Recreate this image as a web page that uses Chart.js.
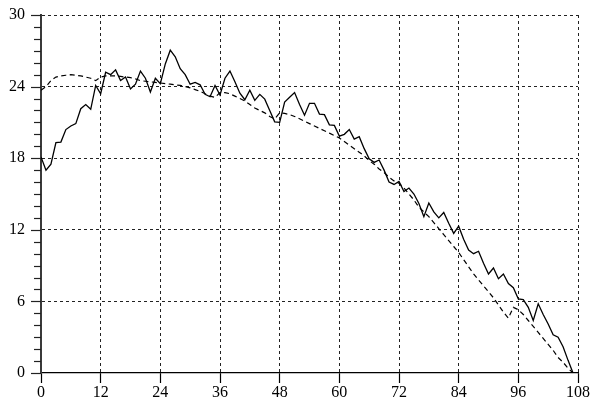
<!DOCTYPE html>
<html>
<head>
<meta charset="utf-8">
<style>
  html, body { margin: 0; padding: 0; background: #fff; }
  #wrap { width: 593px; height: 402px; }
</style>
<script src="https://cdn.jsdelivr.net/npm/chart.js@4/dist/chart.umd.min.js"></script>
</head>
<body>
<div id="wrap"><canvas id="c" width="593" height="402"></canvas></div>
<script>
// Month index along the horizontal axis
const months = [
  0, 1, 2, 3, 4, 5, 6, 7, 8, 9, 10, 11, 12, 13, 14, 15, 16, 17, 18, 19,
  20, 21, 22, 23, 24, 25, 26, 27, 28, 29, 30, 31, 32, 33, 34, 35, 36, 37, 38, 39,
  40, 41, 42, 43, 44, 45, 46, 47, 48, 49, 50, 51, 52, 53, 54, 55, 56, 57, 58, 59,
  60, 61, 62, 63, 64, 65, 66, 67, 68, 69, 70, 71, 72, 73, 74, 75, 76, 77, 78, 79,
  80, 81, 82, 83, 84, 85, 86, 87, 88, 89, 90, 91, 92, 93, 94, 95, 96, 97, 98, 99,
  100, 101, 102, 103, 104, 105, 106, 107
];

// Observed series (solid line)
const observed = [
  18.1, 17.0, 17.5, 19.3, 19.35, 20.4, 20.7, 20.9, 22.15, 22.5,
  22.1, 24.1, 23.4, 25.2, 25.0, 25.4, 24.5, 24.8, 23.8, 24.2,
  25.3, 24.7, 23.55, 24.7, 24.25, 25.9, 27.05, 26.5, 25.5, 25.0,
  24.2, 24.35, 24.15, 23.35, 23.15, 24.1, 23.3, 24.7, 25.3, 24.4,
  23.45, 22.9, 23.7, 22.85, 23.35, 22.95, 22.0, 21.05, 21.0, 22.7,
  23.1, 23.5, 22.5, 21.6, 22.6, 22.6, 21.7, 21.65, 20.8, 20.75,
  19.85, 20.0, 20.4, 19.6, 19.8, 18.8, 17.95, 17.65, 17.85, 17.0,
  16.0, 15.8, 16.05, 15.2, 15.5, 15.0, 14.2, 13.1, 14.25, 13.5,
  13.0, 13.45, 12.55, 11.7, 12.3, 11.2, 10.3, 10.0, 10.2, 9.2,
  8.3, 8.8, 7.9, 8.3, 7.5, 7.15, 6.2, 6.15, 5.5, 4.4,
  5.8, 4.9, 4.1, 3.2, 3.0, 2.2, 1.06, 0.0
];

// Fitted series (dashed line)
const fitted = [
  23.7, 24.0, 24.5, 24.8, 24.9, 24.95, 25.0, 24.95, 24.9, 24.8,
  24.7, 24.5, 24.8, 24.9, 24.9, 24.9, 24.85, 24.8, 24.75, 24.65,
  24.5, 24.45, 24.4, 24.35, 24.3, 24.25, 24.2, 24.15, 24.1, 24.0,
  23.9, 23.75, 23.6, 23.4, 23.2, 23.1, 23.5, 23.5, 23.4, 23.2,
  23.0, 22.8, 22.5, 22.2, 22.0, 21.8, 21.5, 21.3, 21.8, 21.75,
  21.65, 21.5, 21.3, 21.1, 20.9, 20.7, 20.5, 20.3, 20.1, 19.9,
  19.7, 19.4, 19.1, 18.8, 18.5, 18.2, 17.8, 17.5, 17.1, 16.8,
  16.4, 16.1, 15.9, 15.5, 15.0, 14.5, 13.9, 13.5, 13.1, 12.6,
  12.1, 11.6, 11.1, 10.6, 10.1, 9.5, 8.9, 8.3, 7.8, 7.3,
  6.8, 6.3, 5.7, 5.1, 4.6, 5.5, 5.3, 4.9, 4.4, 3.9,
  3.4, 2.9, 2.4, 1.9, 1.3, 0.9, 0.4, 0.0
];

// Axis tick values
const xTicks = [0, 12, 24, 36, 48, 60, 72, 84, 96, 108];
const yTicks = [0, 6, 12, 18, 24, 30];

const FONT = { family: "'Liberation Serif', 'DejaVu Serif', serif", size: 16 };

// Short minor ticks at every unit on the value axis, long ones at labelled values
const yTickMarks = {
  id: 'yTickMarks',
  afterDraw(chart) {
    const y = chart.scales.y;
    const ctx = chart.ctx;
    const left = chart.chartArea.left;
    ctx.save();
    ctx.strokeStyle = '#222';
    ctx.lineWidth = 1.2;
    for (let v = y.min; v <= y.max; v++) {
      const py = Math.round(y.getPixelForValue(v)) + 0.5;
      const len = yTicks.includes(v) ? 10 : 7;
      ctx.beginPath();
      ctx.moveTo(left - len, py);
      ctx.lineTo(left, py);
      ctx.stroke();
    }
    ctx.restore();
  }
};

new Chart(document.getElementById('c'), {
  type: 'line',
  data: {
    datasets: [
      {
        data: months.map((m, i) => ({ x: m, y: observed[i] })),
        borderColor: '#000',
        borderWidth: 1.3,
        pointRadius: 0,
        tension: 0,
        fill: false
      },
      {
        data: months.map((m, i) => ({ x: m, y: fitted[i] })),
        borderColor: '#000',
        borderWidth: 1.2,
        borderDash: [5, 3.5],
        pointRadius: 0,
        tension: 0,
        fill: false
      }
    ]
  },
  options: {
    responsive: false,
    animation: false,
    events: [],
    layout: { padding: { left: 0, right: 15, top: 15, bottom: 0 } },
    plugins: { legend: { display: false }, tooltip: { enabled: false } },
    scales: {
      x: {
        type: 'linear',
        min: 0,
        max: 108,
        afterBuildTicks(scale) { scale.ticks = xTicks.map(v => ({ value: v })); },
        afterFit(scale) { scale.height = 29; },
        ticks: { color: '#000', font: FONT, padding: 0, maxRotation: 0 },
        grid: {
          color: ctx => (ctx.tick && ctx.tick.value === 0) ? 'rgba(0,0,0,0)' : '#222',
          lineWidth: 1,
          tickLength: 10,
          tickColor: '#000',
          tickWidth: 1.2
        },
        border: { display: true, color: '#000', width: 1.2, dash: [3, 3] }
      },
      y: {
        type: 'linear',
        min: 0,
        max: 30,
        afterBuildTicks(scale) { scale.ticks = yTicks.map(v => ({ value: v })); },
        afterFit(scale) { scale.width = 41; },
        ticks: { color: '#000', font: FONT, padding: 2 },
        grid: {
          color: ctx => (ctx.tick && ctx.tick.value === 0) ? 'rgba(0,0,0,0)' : '#222',
          lineWidth: 1,
          drawTicks: true,
          tickLength: 14,
          tickColor: 'rgba(0,0,0,0)'
        },
        border: { display: true, color: '#3a3a3a', width: 2, dash: [3, 3] }
      }
    }
  },
  plugins: [yTickMarks]
});
</script>
</body>
</html>
